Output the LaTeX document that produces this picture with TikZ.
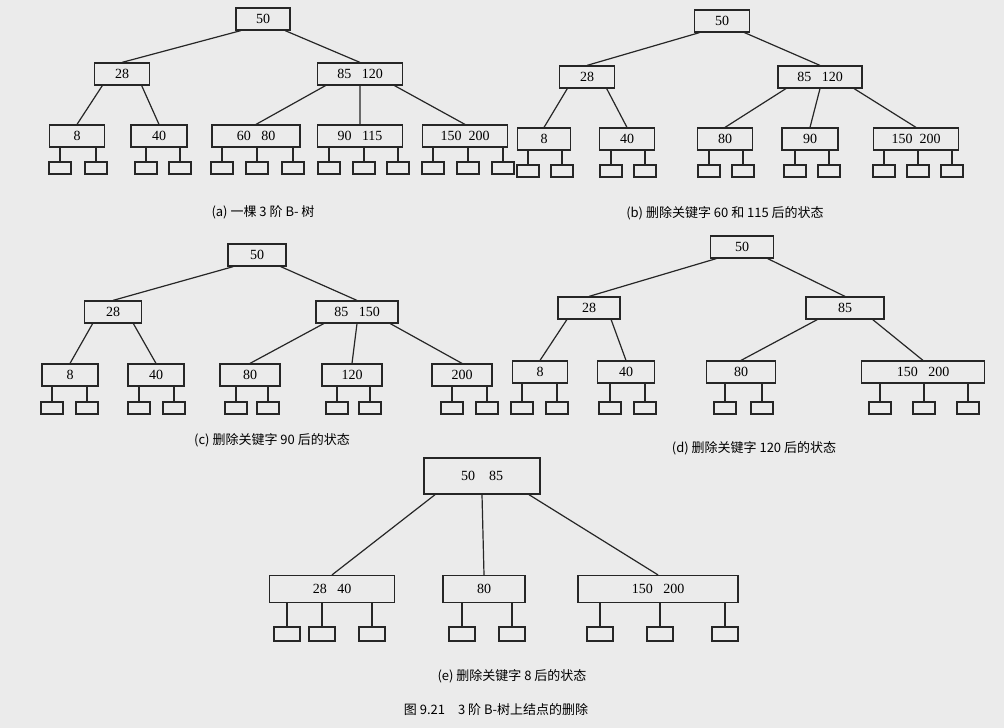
\documentclass[tikz,border=0pt]{standalone}
\usepackage{fontspec}
\setmainfont{Liberation Serif}
\newfontfamily\cjk{Noto Sans CJK SC}
\usetikzlibrary{calc}
\tikzset{
 key/.style={draw=black!85,line width=1.2pt,minimum height=22pt,inner sep=0pt,font=\fontsize{14}{14}\selectfont},
 leaf/.style={draw=black!85,line width=1.2pt,minimum width=22pt,minimum height=12pt,inner sep=0pt},
 bigleaf/.style={leaf,minimum width=26pt,minimum height=14pt},
 edge/.style={draw=black!85,line width=1.2pt},
 captext/.style={font=\fontsize{13}{13}\selectfont\cjk}
}
\newcommand\link[3]{\draw[edge] ($(#1.south west)!#3!(#1.south east)$) -- (#2.north);}
\newcommand\mkleaves[4][leaf]{\foreach \xx [count=\i] in {#4} {\node[#1] (#2-\i) at (\xx,#3) {}; \draw[edge] (#2-\i.north) -- (#2-\i.north |- #2.south);}}
\begin{document}
\begin{tikzpicture}[x=1pt,y=-1pt]
\fill[black!8] (0,0) rectangle (1004,728);
\useasboundingbox (0,0) rectangle (1004,728);
% (a)
\node[key,minimum width=54pt] (ar) at (263,19) {50};
\node[key,minimum width=55pt] (a28) at (122,74) {28};
\node[key,minimum width=85pt] (a85) at (360,74) {85\ \ \ 120};
\node[key,minimum width=55pt] (a8) at (77,136) {8};
\node[key,minimum width=56pt] (a40) at (159,136) {40};
\node[key,minimum width=88pt] (a60) at (256,136) {60\ \ \ 80};
\node[key,minimum width=85pt] (a90) at (360,136) {90\ \ \ 115};
\node[key,minimum width=85pt] (a150) at (465,136) {150\ \ 200};
\link{ar}{a28}{0.1}\link{ar}{a85}{0.9}
\link{a28}{a8}{0.15}\link{a28}{a40}{0.85}
\link{a85}{a60}{0.1}\link{a85}{a90}{0.5}\link{a85}{a150}{0.9}
\mkleaves{a8}{168}{60,96}\mkleaves{a40}{168}{146,180}
\mkleaves{a60}{168}{222,257,293}\mkleaves{a90}{168}{329,364,398}\mkleaves{a150}{168}{433,468,503}
\node[captext] (ca) at (263,212) {(a) 一棵 3 阶 B- 树};
% (b)
\node[key,minimum width=55pt] (br) at (722,21) {50};
\node[key,minimum width=55pt] (b28) at (587,77) {28};
\node[key,minimum width=84pt] (b85) at (820,77) {85\ \ \ 120};
\node[key,minimum width=53pt] (b8) at (544,139) {8};
\node[key,minimum width=55pt] (b40) at (627,139) {40};
\node[key,minimum width=55pt] (b80) at (725,139) {80};
\node[key,minimum width=56pt] (b90) at (810,139) {90};
\node[key,minimum width=85pt] (b150) at (916,139) {150\ \ 200};
\link{br}{b28}{0.1}\link{br}{b85}{0.9}
\link{b28}{b8}{0.15}\link{b28}{b40}{0.85}
\link{b85}{b80}{0.1}\link{b85}{b90}{0.5}\link{b85}{b150}{0.9}
\mkleaves{b8}{171}{528,562}\mkleaves{b40}{171}{611,645}\mkleaves{b80}{171}{709,743}
\mkleaves{b90}{171}{795,829}\mkleaves{b150}{171}{884,918,952}
\node[captext] (cb) at (725,213) {(b) 删除关键字 60 和 115 后的状态};
% (c)
\node[key,minimum width=58pt] (cr) at (257,255) {50};
\node[key,minimum width=57pt] (c28) at (113,312) {28};
\node[key,minimum width=82pt] (c85) at (357,312) {85\ \ \ 150};
\node[key,minimum width=56pt] (c8) at (70,375) {8};
\node[key,minimum width=56pt] (c40) at (156,375) {40};
\node[key,minimum width=60pt] (c80) at (250,375) {80};
\node[key,minimum width=60pt] (c120) at (352,375) {120};
\node[key,minimum width=60pt] (c200) at (462,375) {200};
\link{cr}{c28}{0.1}\link{cr}{c85}{0.9}
\link{c28}{c8}{0.15}\link{c28}{c40}{0.85}
\link{c85}{c80}{0.1}\link{c85}{c120}{0.5}\link{c85}{c200}{0.9}
\mkleaves{c8}{408}{52,87}\mkleaves{c40}{408}{139,174}\mkleaves{c80}{408}{236,268}
\mkleaves{c120}{408}{337,370}\mkleaves{c200}{408}{452,487}
\node[captext] (cc) at (272,440) {(c) 删除关键字 90 后的状态};
% (d)
\node[key,minimum width=63pt] (dr) at (742,247) {50};
\node[key,minimum width=62pt] (d28) at (589,308) {28};
\node[key,minimum width=78pt] (d85) at (845,308) {85};
\node[key,minimum width=55pt] (d8) at (540,372) {8};
\node[key,minimum width=57pt] (d40) at (626,372) {40};
\node[key,minimum width=69pt] (d80) at (741,372) {80};
\node[key,minimum width=123pt] (d150) at (923,372) {150\ \ \ 200};
\link{dr}{d28}{0.1}\link{dr}{d85}{0.9}
\link{d28}{d8}{0.15}\link{d28}{d40}{0.85}
\link{d85}{d80}{0.15}\link{d85}{d150}{0.85}
\mkleaves{d8}{408}{522,557}\mkleaves{d40}{408}{610,645}\mkleaves{d80}{408}{725,762}
\mkleaves{d150}{408}{880,924,968}
\node[captext] (cd) at (754,448) {(d) 删除关键字 120 后的状态};
% (e)
\node[key,minimum width=116pt,minimum height=36pt] (er) at (482,476) {50\ \ \ \ 85};
\node[key,minimum width=125pt,minimum height=27pt] (e28) at (332,589) {28\ \ \ 40};
\node[key,minimum width=82pt,minimum height=27pt] (e80) at (484,589) {80};
\node[key,minimum width=160pt,minimum height=27pt] (e150) at (658,589) {150\ \ \ 200};
\link{er}{e28}{0.1}\link{er}{e80}{0.5}\link{er}{e150}{0.9}
\mkleaves[bigleaf]{e28}{634}{287,322,372}\mkleaves[bigleaf]{e80}{634}{462,512}
\mkleaves[bigleaf]{e150}{634}{600,660,725}
\node[captext] (ce) at (512,676) {(e) 删除关键字 8 后的状态};
\node[captext] (fig) at (496,710) {图 9.21\quad 3 阶 B-树上结点的删除};
\end{tikzpicture}
\end{document}
